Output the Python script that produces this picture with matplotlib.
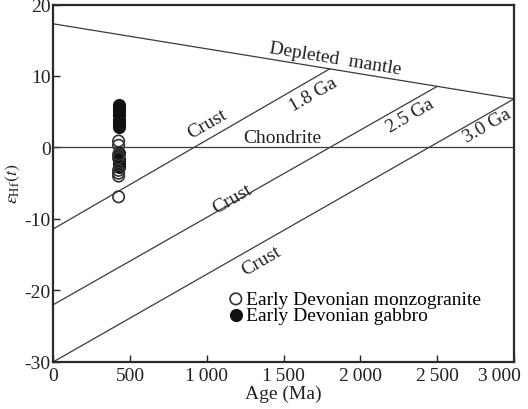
import matplotlib
matplotlib.use("Agg")
import matplotlib.pyplot as plt
from matplotlib.transforms import ScaledTranslation

plt.rcParams['font.family'] = ['Liberation Serif', 'DejaVu Serif']
plt.rcParams['mathtext.fontset'] = 'stix'
plt.rcParams['axes.unicode_minus'] = False

# reference lines (age in Ma, epsilon Hf)
dm_age = [0, 3000]
dm_eps = [17.3, 6.8]
chur_age = [0, 3000]
chur_eps = [0, 0]
crust_ages = [[0, 1800], [0, 2500], [0, 3000]]
crust_eps = [[-11.4, 11.0], [-22.0, 8.55], [-30.0, 6.8]]

# zircon data
monzo_age = [425, 425, 425, 425, 425, 425, 425, 425]
monzo_eps = [0.9, 0.3, -1.0, -1.5, -3.2, -3.6, -4.0, -6.9]
gabbro_age = [425, 425, 425, 425, 425, 425, 425, 425, 425, 425, 425]
gabbro_eps = [6.0, 5.6, 5.1, 4.5, 3.9, 3.3, 2.8, -0.8, -1.6, -2.2, -2.8]

xticks = [0, 500, 1000, 1500, 2000, 2500, 3000]
xticklabels = ['0', '500', '1\u2009000', '1\u2009500', '2\u2009000', '2\u2009500', '3\u2009000']
yticks = [-30, -20, -10, 0, 10, 20]

fig = plt.figure(figsize=(5.28, 4.10), dpi=100)
ax = fig.add_axes([0.101, 0.115, 0.8725, 0.8715])

lc = '#3a3a3a'
ax.plot(dm_age, dm_eps, color=lc, lw=0.9)
ax.plot(chur_age, chur_eps, color=lc, lw=0.9)
for xs, ys in zip(crust_ages, crust_eps):
    ax.plot(xs, ys, color=lc, lw=0.9)

ax.scatter(gabbro_age, gabbro_eps, s=68, facecolor='#111111', edgecolor='#111111',
           linewidths=1.2, zorder=3, label='Early Devonian gabbro')
ax.scatter(monzo_age, monzo_eps, s=68, facecolor='none', edgecolor='#333333',
           linewidths=1.2, zorder=4, label='Early Devonian monzogranite')

fs = 14
tc = '#222222'
ax.text(1834, 12.4, 'Depleted  mantle', rotation=-9.3, ha='center', va='center', fontsize=fs, color=tc)
ax.text(1690, 7.5, '1.8 Ga', rotation=30, ha='center', va='center', fontsize=fs, color=tc)
ax.text(2322, 4.5, '2.5 Ga', rotation=30, ha='center', va='center', fontsize=fs, color=tc)
ax.text(2824, 3.1, '3.0 Ga', rotation=30, ha='center', va='center', fontsize=fs, color=tc)
ax.text(1488, 1.4, 'Chondrite', ha='center', va='center', fontsize=fs, color=tc)
ax.text(1006, 3.3, 'Crust', rotation=30, ha='center', va='center', fontsize=fs, color=tc)
ax.text(1163, -7.1, 'Crust', rotation=30, ha='center', va='center', fontsize=fs, color=tc)
ax.text(1358, -15.8, 'Crust', rotation=30, ha='center', va='center', fontsize=fs, color=tc)

handles, labels = ax.get_legend_handles_labels()
ax.legend(handles[::-1], labels[::-1], loc='upper left', bbox_to_anchor=(0.375, 0.2),
          frameon=False, fontsize=fs, handletextpad=0.0, labelspacing=-0.1,
          borderpad=0, handlelength=1.0, borderaxespad=0)

ax.set_xlim(0, 3000)
ax.set_ylim(-30, 20)
ax.set_xticks(xticks)
ax.set_xticklabels(xticklabels)
ax.set_yticks(yticks)
ax.tick_params(direction='in', length=5, width=1, labelsize=fs, colors='#222222')
ax.tick_params(axis='y', pad=2)
ax.tick_params(axis='x', pad=4)
last = ax.get_xticklabels()[-1]
last.set_transform(last.get_transform() + ScaledTranslation(-0.15, 0, fig.dpi_scale_trans))
for sp in ax.spines.values():
    sp.set_linewidth(1.6)
    sp.set_color('#2a2a2a')

ax.set_xlabel('Age (Ma)', fontsize=fs, color=tc, labelpad=0)
ax.set_ylabel(r'$\varepsilon_{\rm Hf}(t)$', fontsize=13, color=tc)
ax.yaxis.set_label_coords(-0.068, 0.5)

fig.savefig('out.png', dpi=100)
